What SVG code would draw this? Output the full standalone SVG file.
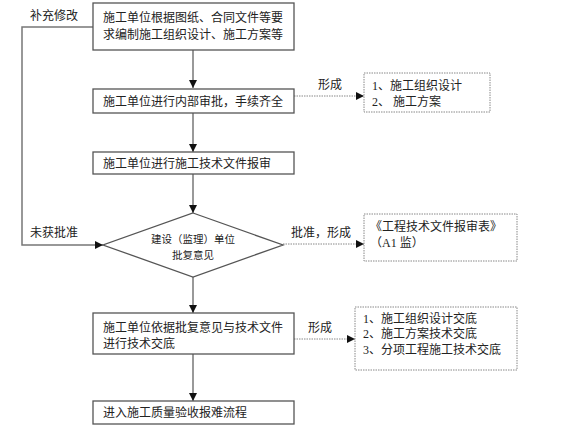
<svg xmlns="http://www.w3.org/2000/svg" width="561" height="437" viewBox="0 0 561 437">
<defs>
<style>
text{font-family:"Liberation Serif","Noto Sans CJK SC",serif;font-size:12px;fill:#222}
.box{fill:#fff;stroke:#555;stroke-width:1.3}
.dbox{fill:#fff;stroke:#888;stroke-width:1;stroke-dasharray:1.5 1}
.ln{fill:none;stroke:#777;stroke-width:1.5}
.dl{fill:none;stroke:#888;stroke-width:1;stroke-dasharray:1.5 1}
.sm{font-size:10.5px}
</style>
<marker id="ah" viewBox="0 0 8 8" refX="8" refY="4" markerWidth="8" markerHeight="8" markerUnits="userSpaceOnUse" orient="auto">
<path d="M0,0 L8,4 L0,8 z" fill="#111"/>
</marker>
</defs>
<rect width="561" height="437" fill="#fff"/>
<g id="connectors">
<line class="ln" x1="193" y1="50" x2="193" y2="88" marker-end="url(#ah)"/>
<line class="ln" x1="193" y1="113" x2="193" y2="152" marker-end="url(#ah)"/>
<line class="ln" x1="193" y1="174" x2="193" y2="213" marker-end="url(#ah)"/>
<line class="ln" x1="193" y1="277" x2="193" y2="313" marker-end="url(#ah)"/>
<line class="ln" x1="193" y1="354" x2="193" y2="401" marker-end="url(#ah)"/>
<polyline class="ln" points="93,27 22,27 22,245 103,245" marker-end="url(#ah)"/>
<line class="dl" x1="294" y1="96" x2="364" y2="96" marker-end="url(#ah)"/>
<line class="dl" x1="283" y1="244" x2="364" y2="244" marker-end="url(#ah)"/>
<line class="dl" x1="294" y1="339" x2="355" y2="339" marker-end="url(#ah)"/>
<text x="30" y="20">补充修改</text>
<text x="30" y="237">未获批准</text>
<text x="318" y="89">形成</text>
<text x="291" y="237">批准，形成</text>
<text x="308" y="332">形成</text>
</g>
<g id="n1">
<rect class="box" x="93" y="3" width="201" height="47"/>
<text x="103" y="22">施工单位根据图纸、合同文件等要</text>
<text x="103" y="39">求编制施工组织设计、施工方案等</text>
</g>
<g id="n2">
<rect class="box" x="93" y="89" width="201" height="24"/>
<text x="103" y="106">施工单位进行内部审批，手续齐全</text>
</g>
<g id="n2out">
<rect class="dbox" x="364" y="73" width="126" height="39"/>
<text x="372" y="90">1、施工组织设计</text>
<text x="372" y="106">2、 施工方案</text>
</g>
<g id="n3">
<rect class="box" x="93" y="152" width="201" height="22"/>
<text x="103" y="168">施工单位进行施工技术文件报审</text>
</g>
<g id="n4">
<polygon class="box" points="193,213 283,245 193,277 103,245"/>
<text class="sm" x="193" y="243" text-anchor="middle">建设（监理）单位</text>
<text class="sm" x="193" y="259" text-anchor="middle">批复意见</text>
</g>
<g id="n4out">
<rect class="dbox" x="364" y="214" width="153" height="47"/>
<text x="370" y="231">《工程技术文件报审表》</text>
<text x="370" y="247">（A1 监）</text>
</g>
<g id="n5">
<rect class="box" x="93" y="313" width="201" height="41"/>
<text x="103" y="332">施工单位依据批复意见与技术文件</text>
<text x="103" y="348">进行技术交底</text>
</g>
<g id="n5out">
<rect class="dbox" x="355" y="307" width="162" height="63"/>
<text x="363" y="323">1、施工组织设计交底</text>
<text x="363" y="338">2、施工方案技术交底</text>
<text x="363" y="354">3、分项工程施工技术交底</text>
</g>
<g id="n6">
<rect class="box" x="93" y="401" width="201" height="23"/>
<text x="103" y="417">进入施工质量验收报难流程</text>
</g>
</svg>
